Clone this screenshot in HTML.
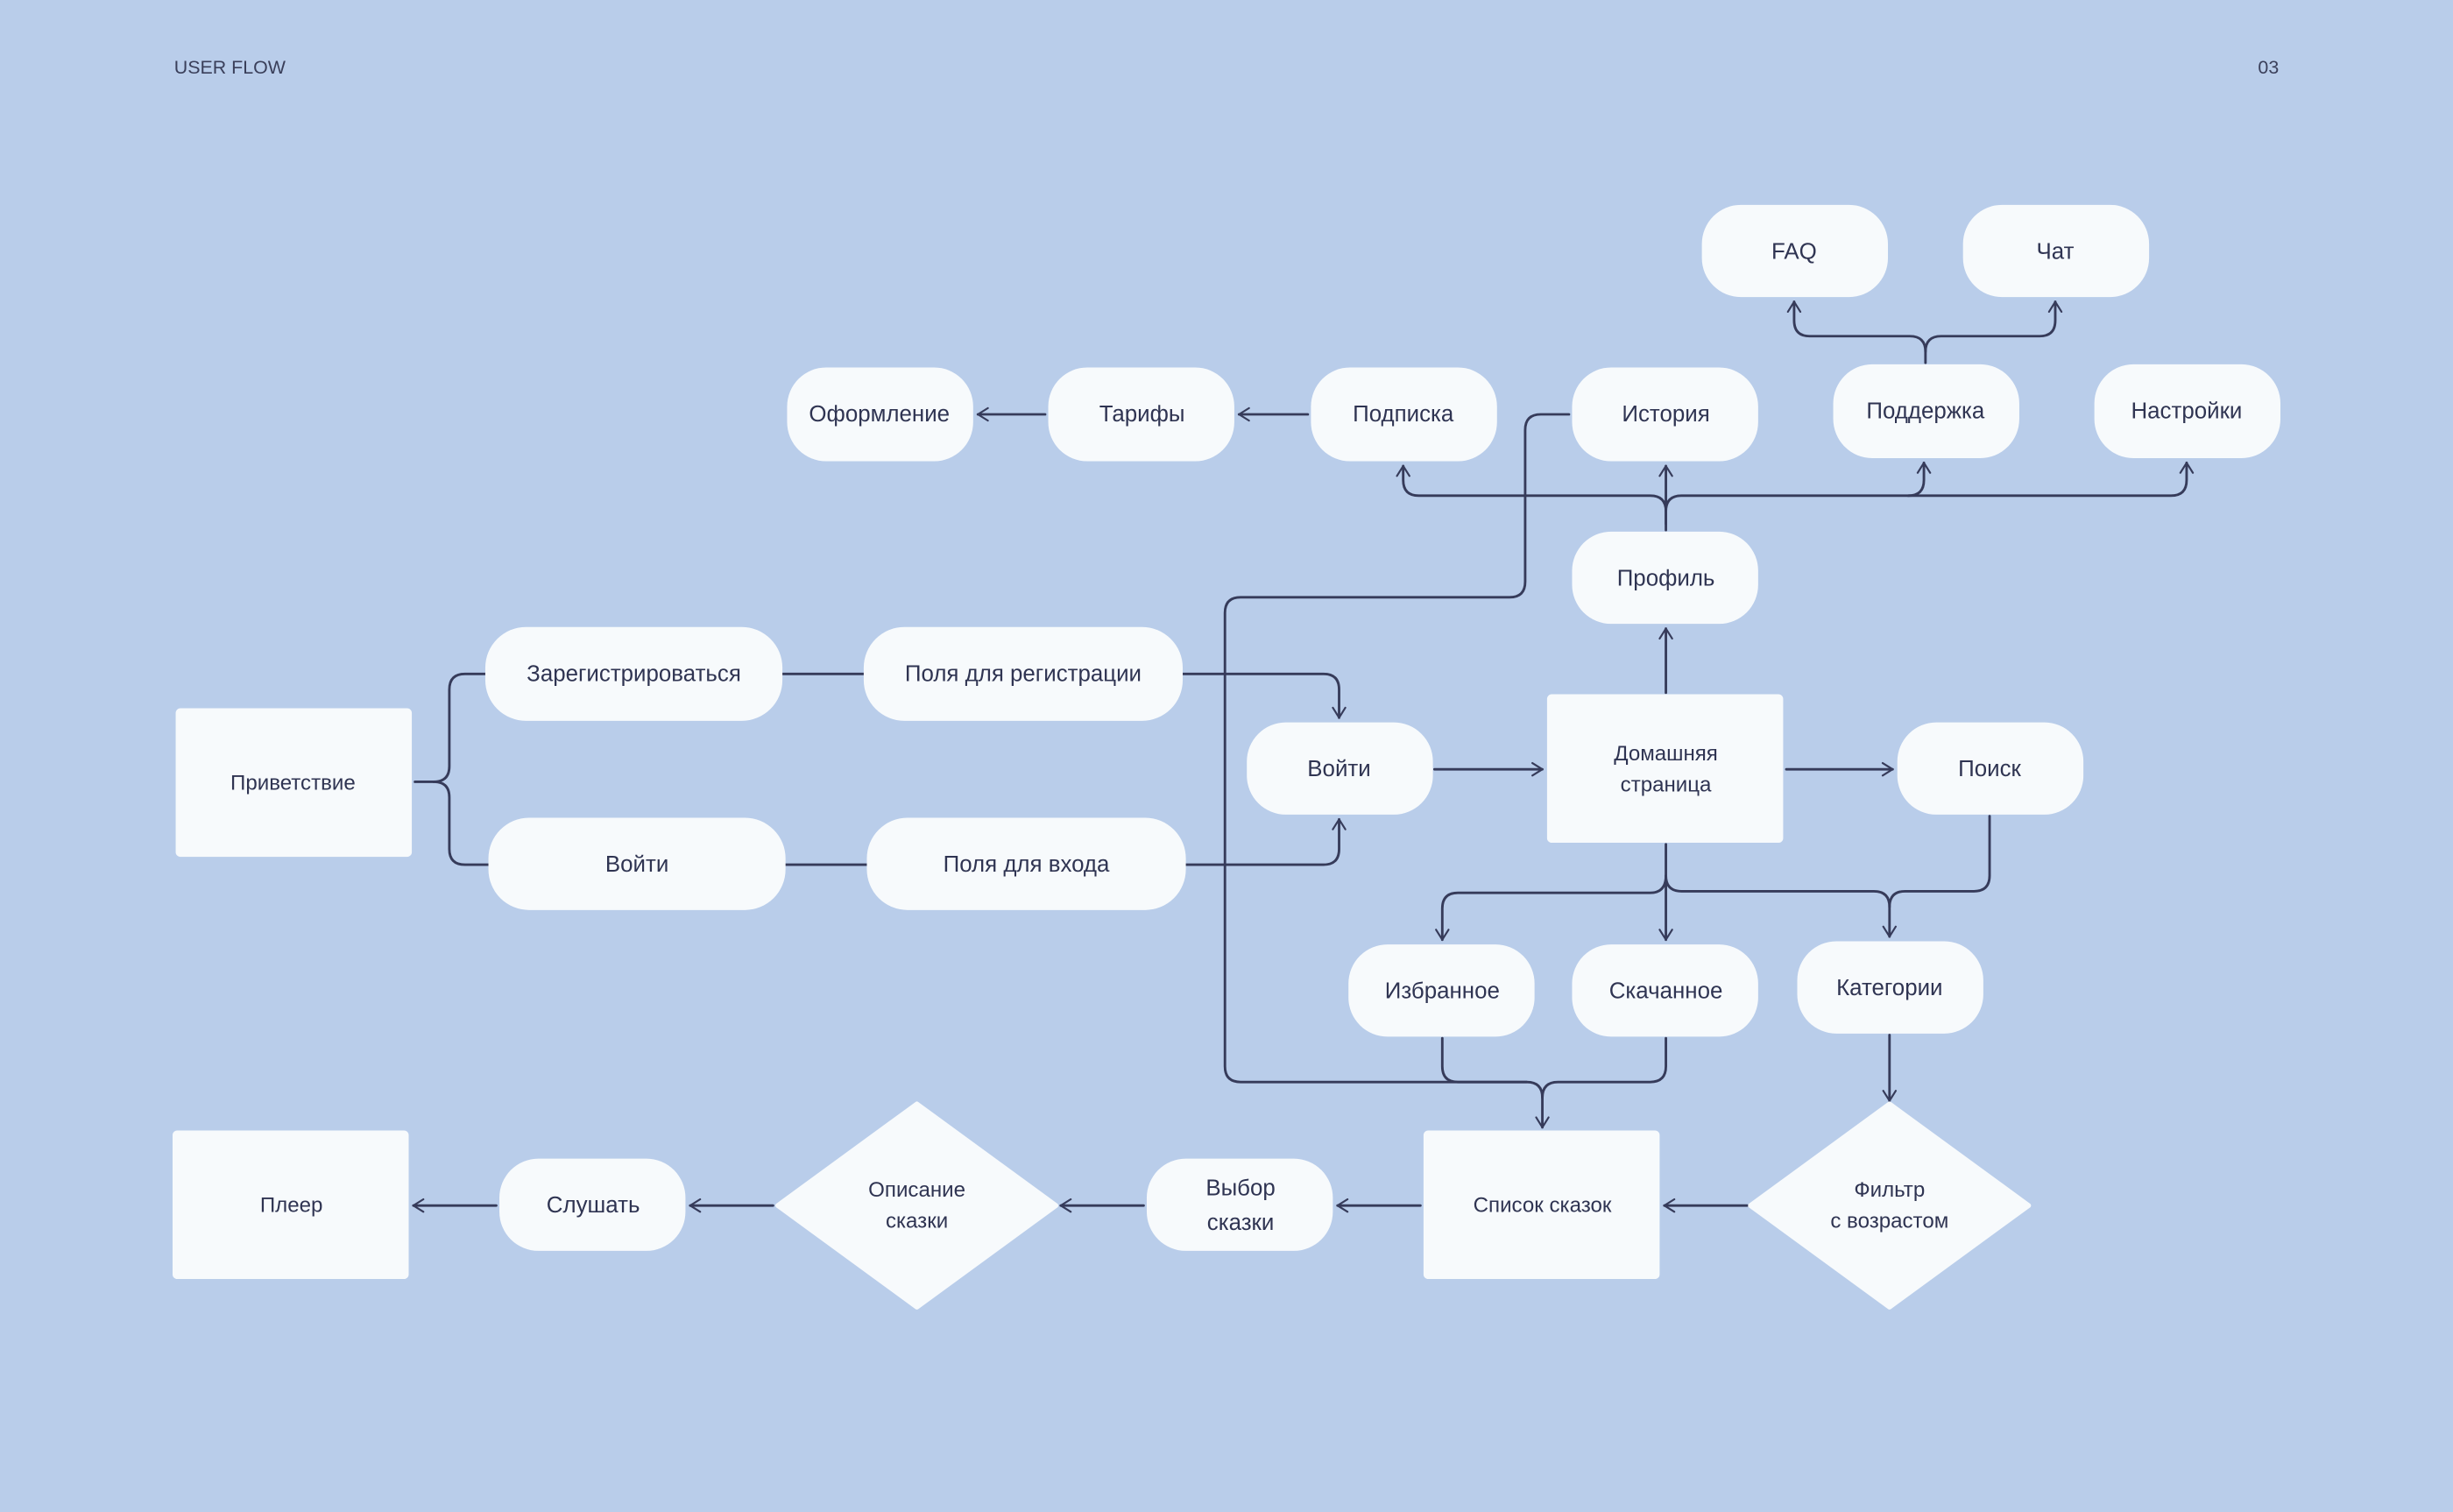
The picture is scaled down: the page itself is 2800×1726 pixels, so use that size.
<!DOCTYPE html>
<html><head><meta charset="utf-8"><style>
html,body{margin:0;padding:0;background:#b9cdea;}
svg{display:block;}
text{font-family:"Liberation Sans","DejaVu Sans",sans-serif;fill:#2f3452;text-anchor:middle;dominant-baseline:central;}
</style></head><body>
<svg width="2800" height="1726" viewBox="0 0 1568 967" xmlns="http://www.w3.org/2000/svg">
<defs>
<marker id="a" viewBox="0 0 10 12" refX="9" refY="6" markerWidth="8" markerHeight="11" markerUnits="userSpaceOnUse" orient="auto">
<path d="M1,1 L9,6 L1,11" fill="none" stroke="#363b5a" stroke-width="1.5" stroke-linecap="round" stroke-linejoin="round"/>
</marker>
</defs>
<rect width="1568" height="967" fill="#b9cdea"/>
<text x="111" y="43" style="text-anchor:start;font-size:12px;fill:#3a3f5a">USER FLOW</text>
<text x="1457" y="43" style="text-anchor:end;font-size:12px;fill:#3a3f5a">03</text>

<g fill="none" stroke="#363b5a" stroke-width="1.6" stroke-linecap="round">
<path d="M265,500 H277 Q287,500 287,490 V441 Q287,431 297,431 H310"/>
<path d="M277,500 Q287,500 287,510 V543 Q287,553 297,553 H312"/>
<path d="M500,431 H552"/>
<path d="M502,553 H554"/>
<path d="M756,431 H846 Q856,431 856,441 V459" marker-end="url(#a)"/>
<path d="M758,553 H846 Q856,553 856,543 V524" marker-end="url(#a)"/>
<path d="M917,492 H986" marker-end="url(#a)"/>
<path d="M1142,492 H1210" marker-end="url(#a)"/>
<path d="M1065,443 V402" marker-end="url(#a)"/>
<path d="M1065,339 V298" marker-end="url(#a)"/>
<path d="M1065,335 V327 Q1065,317 1055,317 H907 Q897,317 897,307 V298" marker-end="url(#a)"/>
<path d="M1065,327 Q1065,317 1075,317 H1388 Q1398,317 1398,307 V296" marker-end="url(#a)"/>
<path d="M1220,317 Q1230,317 1230,307 V296" marker-end="url(#a)"/>
<path d="M668,265 H625" marker-end="url(#a)"/>
<path d="M836,265 H792" marker-end="url(#a)"/>
<path d="M1231,232 V225 Q1231,215 1221,215 H1157 Q1147,215 1147,205 V193" marker-end="url(#a)"/>
<path d="M1231,225 Q1231,215 1241,215 H1304 Q1314,215 1314,205 V193" marker-end="url(#a)"/>
<path d="M1003,265 H985 Q975,265 975,275 V372 Q975,382 965,382 H793 Q783,382 783,392 V682 Q783,692 793,692 H976 Q986,692 986,702 V721" marker-end="url(#a)"/>
<path d="M922,664 V682 Q922,692 932,692 H976"/>
<path d="M1065,664 V682 Q1065,692 1055,692 H996 Q986,692 986,702"/>
<path d="M1065,540 V601" marker-end="url(#a)"/>
<path d="M1065,560 Q1065,571 1055,571 H932 Q922,571 922,581 V601" marker-end="url(#a)"/>
<path d="M1065,560 Q1065,570 1075,570 H1198 Q1208,570 1208,580 V599" marker-end="url(#a)"/>
<path d="M1272,522 V560 Q1272,570 1262,570 H1218 Q1208,570 1208,580"/>
<path d="M1208,662 V704" marker-end="url(#a)"/>
<path d="M1117,771 H1064" marker-end="url(#a)"/>
<path d="M908,771 H855" marker-end="url(#a)"/>
<path d="M731,771 H678" marker-end="url(#a)"/>
<path d="M494,771 H441" marker-end="url(#a)"/>
<path d="M317,771 H264" marker-end="url(#a)"/>
</g>

<g fill="#f7fafc">
<rect x="112" y="453" width="151" height="95" rx="3"/>
<rect x="310" y="401" width="190" height="60" rx="26"/>
<rect x="312" y="523" width="190" height="59" rx="26"/>
<rect x="552" y="401" width="204" height="60" rx="26"/>
<rect x="554" y="523" width="204" height="59" rx="26"/>
<rect x="797" y="462" width="119" height="59" rx="25"/>
<rect x="989" y="444" width="151" height="95" rx="3"/>
<rect x="1213" y="462" width="119" height="59" rx="25"/>
<rect x="1005" y="340" width="119" height="59" rx="25"/>
<rect x="503" y="235" width="119" height="60" rx="25"/>
<rect x="670" y="235" width="119" height="60" rx="25"/>
<rect x="838" y="235" width="119" height="60" rx="25"/>
<rect x="1005" y="235" width="119" height="60" rx="25"/>
<rect x="1172" y="233" width="119" height="60" rx="25"/>
<rect x="1339" y="233" width="119" height="60" rx="25"/>
<rect x="1088" y="131" width="119" height="59" rx="25"/>
<rect x="1255" y="131" width="119" height="59" rx="25"/>
<rect x="862" y="604" width="119" height="59" rx="25"/>
<rect x="1005" y="604" width="119" height="59" rx="25"/>
<rect x="1149" y="602" width="119" height="59" rx="25"/>
<rect x="910" y="723" width="151" height="95" rx="3"/>
<path d="M1208,706 L1297,771 L1208,836 L1119,771 Z" stroke="#f7fafc" stroke-width="3" stroke-linejoin="round"/>
<rect x="733" y="741" width="119" height="59" rx="25"/>
<path d="M586,706 L675,771 L586,836 L497,771 Z" stroke="#f7fafc" stroke-width="3" stroke-linejoin="round"/>
<rect x="319" y="741" width="119" height="59" rx="25"/>
<rect x="110" y="723" width="151" height="95" rx="3"/>
</g>

<g style="font-size:14.5px">
<text x="405" y="431">Зарегистрироваться</text>
<text x="407" y="553">Войти</text>
<text x="654" y="431">Поля для регистрации</text>
<text x="656" y="553">Поля для входа</text>
<text x="856" y="492">Войти</text>
<text x="1272" y="492">Поиск</text>
<text x="1065" y="370">Профиль</text>
<text x="562" y="265">Оформление</text>
<text x="730" y="265">Тарифы</text>
<text x="897" y="265">Подписка</text>
<text x="1065" y="265">История</text>
<text x="1231" y="263">Поддержка</text>
<text x="1398" y="263">Настройки</text>
<text x="1147" y="161">FAQ</text>
<text x="1314" y="161">Чат</text>
<text x="922" y="634">Избранное</text>
<text x="1065" y="634">Скачанное</text>
<text x="1208" y="632">Категории</text>
<text x="793" y="760">Выбор</text>
<text x="793" y="782">сказки</text>
<text x="379" y="771">Слушать</text>
</g>
<g style="font-size:13.5px">
<text x="187" y="501">Приветствие</text>
<text x="1065" y="482">Домашняя</text>
<text x="1065" y="502">страница</text>
<text x="986" y="771">Список сказок</text>
<text x="1208" y="761">Фильтр</text>
<text x="1208" y="781">с возрастом</text>
<text x="586" y="761">Описание</text>
<text x="586" y="781">сказки</text>
<text x="186" y="771">Плеер</text>
</g>
</svg>
</body></html>
